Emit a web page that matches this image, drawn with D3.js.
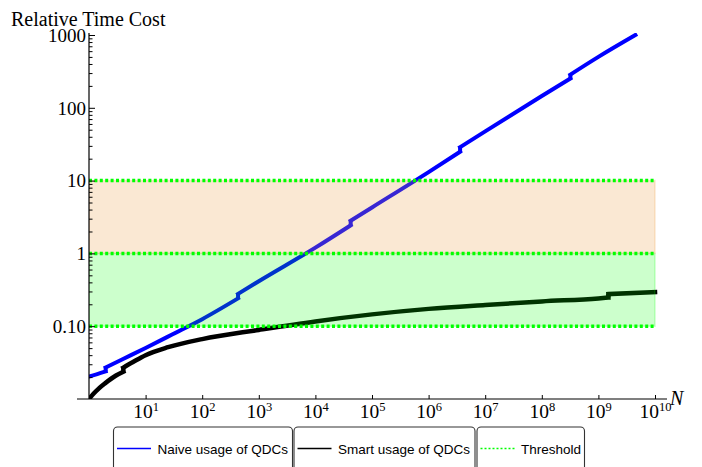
<!DOCTYPE html>
<html>
<head>
<meta charset="utf-8">
<script src="https://cdn.jsdelivr.net/npm/d3@7"></script>
<style>
body { margin: 0; background: #fff; }
svg { display: block; }
</style>
</head>
<body>
<div id="plot"></div>
<script>
// Naive usage of QDCs (blue), repeated N marks a step
const naiveN = [1, 1.4, 1.97, 1.97, 4, 10, 30, 100, 430, 430, 1000, 1e4, 42000, 42000, 1e5, 1e6, 3.6e6, 3.6e6, 1e7, 1e8, 3.2e8, 3.2e8, 1e9, 4.5e9];
const naiveCost = [0.0204, 0.0220, 0.0239, 0.0271, 0.0355, 0.0503, 0.0775, 0.125, 0.241, 0.278, 0.415, 1.2, 2.43, 2.81, 4.28, 13.1, 24.9, 28.8, 47.5, 145, 252, 286, 501, 1000];

// Smart usage of QDCs (black)
const smartN = [1, 1.2, 1.5, 1.92, 3, 4.04, 4.04, 6, 10, 25, 100, 1000, 1e4, 1e5, 1e6, 1e7, 1e8, 1e9, 1.5e9, 1.5e9, 1e10];
const smartCost = [0.01, 0.0118, 0.014, 0.0164, 0.021, 0.0237, 0.027, 0.0322, 0.040, 0.0515, 0.0665, 0.0889, 0.1164, 0.1454, 0.173, 0.196, 0.219, 0.241, 0.247, 0.276, 0.294];

// threshold levels and bands
const thresholds = [0.1, 1, 10];
const bands = [
  { lo: 0.1, hi: 1, color: "rgba(0,255,0,0.2)" },
  { lo: 1, hi: 10, color: "rgba(235,160,70,0.24)" }
];

const xTicks = [1e1, 1e2, 1e3, 1e4, 1e5, 1e6, 1e7, 1e8, 1e9, 1e10];
const yTicks = [0.1, 1, 10, 100, 1000];
const yTickLabels = ["0.10", "1", "10", "100", "1000"];

const legendItems = ["Naive usage of QDCs", "Smart usage of QDCs", "Threshold"];

const W = 702, H = 467;
const svg = d3.select("#plot").append("svg")
  .attr("width", W).attr("height", H);

const x = d3.scaleLog().domain([1, 1e10]).range([89, 655]);
const y = d3.scaleLog().domain([0.01, 1000]).range([399, 35]);

const serif = "'Liberation Serif', 'Times New Roman', serif";
const sans = "'Liberation Sans', Arial, sans-serif";

// clip
svg.append("defs").append("clipPath").attr("id", "clip")
  .append("rect").attr("x", 89).attr("y", 33).attr("width", 580).attr("height", 366);

const plot = svg.append("g").attr("clip-path", "url(#clip)");

// split a series into smooth pieces at its steps
function drawSeries(ns, vs, color, width) {
  const pts = ns.map((n, i) => [n, vs[i]]);
  const pieces = [[pts[0]]];
  const steps = [];
  for (let i = 1; i < pts.length; i++) {
    if (pts[i][0] === pts[i - 1][0]) {
      steps.push([pts[i - 1], pts[i]]);
      pieces.push([pts[i]]);
    } else pieces[pieces.length - 1].push(pts[i]);
  }
  const smooth = d3.line().x(d => x(d[0])).y(d => y(d[1])).curve(d3.curveMonotoneX);
  const straight = d3.line().x(d => x(d[0])).y(d => y(d[1]));
  plot.selectAll(null).data(pieces).enter().append("path")
    .attr("d", smooth).attr("fill", "none")
    .attr("stroke", color).attr("stroke-width", width).attr("stroke-linecap", "square");
  plot.selectAll(null).data(steps).enter().append("path")
    .attr("d", straight).attr("fill", "none")
    .attr("stroke", color).attr("stroke-width", width);
}

drawSeries(naiveN, naiveCost, "#0000ff", 4);
drawSeries(smartN, smartCost, "#000", 4.5);

// bands drawn over the curves
plot.selectAll(".band").data(bands).enter().append("rect")
  .attr("x", x(1)).attr("width", x(1e10) - x(1))
  .attr("y", d => y(d.hi)).attr("height", d => y(d.lo) - y(d.hi))
  .attr("fill", d => d.color)
  .attr("stroke", d => d.color).attr("stroke-width", 1.5);

plot.selectAll(".thr").data(thresholds).enter().append("line")
  .attr("x1", x(1)).attr("x2", x(1e10))
  .attr("y1", d => y(d)).attr("y2", d => y(d))
  .attr("stroke", "#00ff00").attr("stroke-width", 3.5)
  .attr("stroke-dasharray", "3,2.4");

// axes
const yMinor = [];
for (let e = -2; e < 3; e++) for (let k = 2; k <= 9; k++) yMinor.push(k * Math.pow(10, e));

const yMinorAxis = svg.append("g").attr("transform", "translate(89,0)")
  .call(d3.axisLeft(y).tickValues(yMinor).tickSize(-3.5).tickFormat(""));
yMinorAxis.select(".domain").remove();

const yAxis = svg.append("g").attr("transform", "translate(89,0)")
  .call(d3.axisLeft(y).tickValues(yTicks).tickSize(-6).tickPadding(3)
    .tickFormat((d, i) => yTickLabels[i]));
yAxis.select(".domain").remove();
yAxis.selectAll("text").style("font-family", serif).style("font-size", "19px").attr("fill", "#000")
  .attr("dy", "0.33em");

const xAxis = svg.append("g").attr("transform", "translate(0,399)")
  .call(d3.axisBottom(x).tickValues(xTicks).tickSize(-4).tickPadding(5).tickFormat(""));
xAxis.select(".domain").remove();
xAxis.selectAll(".tick text").each(function(d) {
  const t = d3.select(this).style("font-family", serif).style("font-size", "19.5px").attr("fill", "#000");
  t.append("tspan").text("10");
  t.append("tspan").style("font-size", "12.5px").attr("dy", -7).text(Math.round(Math.log10(d)));
});
svg.selectAll(".tick line").attr("stroke", "#000");

svg.append("line").attr("x1", 77).attr("x2", 667).attr("y1", 399).attr("y2", 399)
  .attr("stroke", "#000").attr("stroke-width", 1.2);
svg.append("line").attr("x1", 89).attr("x2", 89).attr("y1", 33).attr("y2", 399)
  .attr("stroke", "#000").attr("stroke-width", 1.2);

svg.append("text").attr("x", 670).attr("y", 405)
  .attr("font-family", serif).attr("font-style", "italic").attr("font-size", 20)
  .text("N");

svg.append("text").attr("x", 11).attr("y", 26)
  .attr("font-family", serif).attr("font-size", 20)
  .text("Relative Time Cost");

// legend
const legendBoxes = [[113.5, 292.5], [294, 475], [477, 584.5]];
const legendStyle = [
  { stroke: "#0000ff", dash: null },
  { stroke: "#000", dash: null },
  { stroke: "#00ff00", dash: "2,2" }
];
const lg = svg.append("g").selectAll("g").data(legendItems).enter().append("g");
lg.append("rect")
  .attr("x", (d, i) => legendBoxes[i][0]).attr("y", 427)
  .attr("width", (d, i) => legendBoxes[i][1] - legendBoxes[i][0]).attr("height", 50)
  .attr("rx", 4).attr("fill", "#fff").attr("stroke", "#333").attr("stroke-width", 1.1);
lg.append("line")
  .attr("x1", (d, i) => legendBoxes[i][0] + 3.5).attr("x2", (d, i) => legendBoxes[i][0] + 37.5)
  .attr("y1", 448.5).attr("y2", 448.5)
  .attr("stroke", (d, i) => legendStyle[i].stroke).attr("stroke-width", 1.6)
  .attr("stroke-dasharray", (d, i) => legendStyle[i].dash);
lg.append("text")
  .attr("x", (d, i) => legendBoxes[i][0] + 44).attr("y", 453.5)
  .attr("font-family", sans).attr("font-size", 13.5).attr("fill", "#000")
  .text(d => d);
</script>
</body>
</html>
